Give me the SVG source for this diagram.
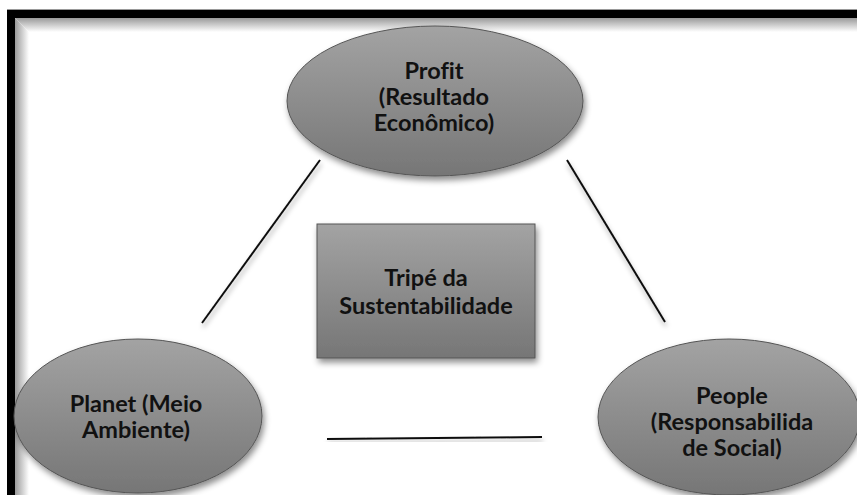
<svg xmlns="http://www.w3.org/2000/svg" width="857" height="495" viewBox="0 0 857 495">
  <defs>
    <linearGradient id="gFill" x1="0" y1="0" x2="0" y2="1">
      <stop offset="0" stop-color="#a3a3a3"/>
      <stop offset="1" stop-color="#767676"/>
    </linearGradient>
    <linearGradient id="gTop" x1="0" y1="0" x2="0" y2="1">
      <stop offset="0" stop-color="#9a9a9a"/>
      <stop offset="1" stop-color="#ffffff"/>
    </linearGradient>
    <linearGradient id="gLeft" x1="0" y1="0" x2="1" y2="0">
      <stop offset="0" stop-color="#9a9a9a"/>
      <stop offset="1" stop-color="#ffffff"/>
    </linearGradient>
    <filter id="shadow" x="-20%" y="-20%" width="140%" height="150%">
      <feDropShadow dx="2" dy="4" stdDeviation="3" flood-color="#000" flood-opacity="0.45"/>
    </filter>
    <filter id="lshadow" x="-20%" y="-50%" width="140%" height="300%">
      <feDropShadow dx="1" dy="4" stdDeviation="2.5" flood-color="#000" flood-opacity="0.35"/>
    </filter>
  </defs>
  <style>
    .shape { fill: url(#gFill); stroke: #555; stroke-width: 1; filter: url(#shadow); }
    .lbl { font-family: Lato, "Liberation Sans", sans-serif; font-weight: 700; font-size: 23.5px; fill: #111; text-anchor: middle; font-variant-ligatures: none; }
    .conn { stroke: #111; stroke-width: 2; fill: none; filter: url(#lshadow); }
  </style>

  <rect x="0" y="0" width="857" height="495" fill="#ffffff"/>

  <g id="frame">
    <rect x="15" y="18" width="842" height="14" fill="url(#gTop)"/>
    <rect x="15" y="18" width="14" height="477" fill="url(#gLeft)"/>
    <rect x="15" y="18" width="14" height="14" fill="#ffffff"/>
    <path d="M15,18 L29,32 L15,32 Z" fill="url(#gLeft)"/>
    <path d="M15,18 L29,32 L29,18 Z" fill="url(#gTop)"/>
    <rect x="7" y="9" width="850" height="1" fill="#999"/>
    <rect x="7" y="10" width="850" height="8" fill="#000"/>
    <rect x="7" y="10" width="8" height="485" fill="#000"/>
  </g>

  <g id="connectors">
    <line class="conn" x1="320" y1="160" x2="202" y2="323"/>
    <line class="conn" x1="567" y1="160" x2="665" y2="322"/>
    <line class="conn" x1="327" y1="439" x2="542" y2="437"/>
  </g>

  <g id="profit">
    <ellipse class="shape" cx="435" cy="101" rx="148" ry="75"/>
    <text class="lbl" x="434" y="79">Profit</text>
    <text class="lbl" x="434" y="105">(Resultado</text>
    <text class="lbl" x="434" y="131">Econômico)</text>
  </g>

  <g id="center">
    <rect class="shape" x="317" y="224" width="218" height="134"/>
    <text class="lbl" x="426" y="286">Tripé da</text>
    <text class="lbl" x="426" y="314">Sustentabilidade</text>
  </g>

  <g id="planet">
    <ellipse class="shape" cx="138" cy="416" rx="124" ry="77"/>
    <text class="lbl" x="136" y="412">Planet (Meio</text>
    <text class="lbl" x="136" y="438">Ambiente)</text>
  </g>

  <g id="people">
    <ellipse class="shape" cx="729" cy="417" rx="131" ry="78"/>
    <text class="lbl" x="732" y="404">People</text>
    <text class="lbl" x="732" y="430">(Responsabilida</text>
    <text class="lbl" x="732" y="456">de Social)</text>
  </g>
</svg>
